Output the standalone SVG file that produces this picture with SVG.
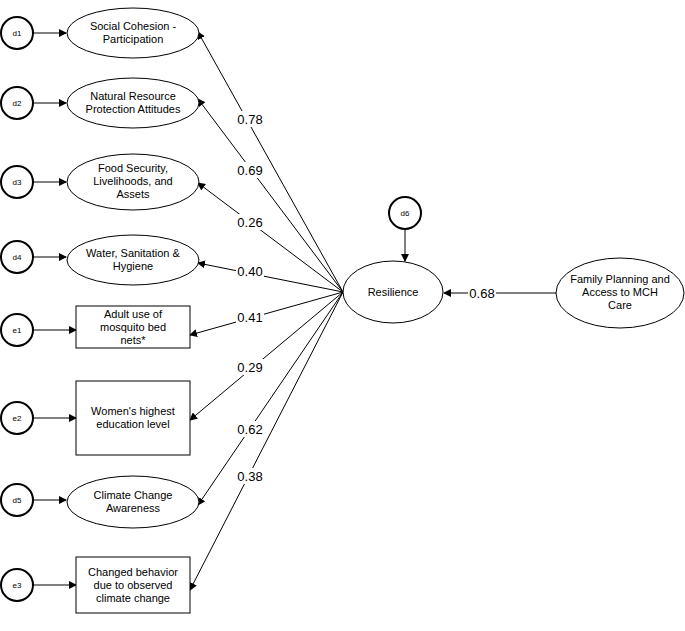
<svg xmlns="http://www.w3.org/2000/svg" width="685" height="631" viewBox="0 0 685 631">
<style>
.n{fill:#fff;stroke:#000;stroke-width:1}
.c{fill:#fff;stroke:#000;stroke-width:2}
.t{font-family:"Liberation Sans",Arial,sans-serif;font-size:11px;text-anchor:middle;fill:#000}
.s{font-family:"Liberation Sans",Arial,sans-serif;font-size:8px;text-anchor:middle;fill:#000}
.l{font-family:"Liberation Sans",Arial,sans-serif;font-size:13px;text-anchor:middle;fill:#000}
.e{stroke:#000;stroke-width:1;fill:none;marker-end:url(#a)}
</style>
<defs><marker id="a" markerWidth="8" markerHeight="8" refX="7" refY="4" orient="auto" markerUnits="userSpaceOnUse"><path d="M0,0 L8,4 L0,8 z" fill="#000"/></marker></defs>
<rect width="685" height="631" fill="#fff"/>
<g id="connectors">
<line class="e" x1="33" y1="33" x2="66" y2="33"/>
<line class="e" x1="33" y1="103" x2="66" y2="103"/>
<line class="e" x1="33" y1="182" x2="66" y2="182"/>
<line class="e" x1="33" y1="257" x2="66" y2="257"/>
<line class="e" x1="33" y1="330" x2="76" y2="330"/>
<line class="e" x1="33" y1="418" x2="76" y2="418"/>
<line class="e" x1="33" y1="500" x2="66" y2="500"/>
<line class="e" x1="33" y1="585" x2="76" y2="585"/>
<line class="e" x1="405" y1="229" x2="405" y2="261"/>
<line class="e" x1="556" y1="293" x2="444" y2="293"/>
<line class="e" x1="343" y1="292" x2="198" y2="32"/>
<line class="e" x1="343" y1="292" x2="198" y2="99"/>
<line class="e" x1="343" y1="292" x2="198" y2="183"/>
<line class="e" x1="343" y1="292" x2="198" y2="263"/>
<line class="e" x1="343" y1="292" x2="190" y2="335"/>
<line class="e" x1="343" y1="292" x2="190" y2="420"/>
<line class="e" x1="343" y1="292" x2="198" y2="505"/>
<line class="e" x1="343" y1="292" x2="190" y2="590"/>
<g fill="#fff">
<rect x="236" y="111" width="28" height="16"/><rect x="236" y="162" width="28" height="16"/>
<rect x="236" y="214" width="28" height="16"/><rect x="236" y="263" width="28" height="16"/>
<rect x="236" y="309" width="28" height="16"/><rect x="236" y="359" width="28" height="16"/>
<rect x="236" y="421" width="28" height="16"/><rect x="236" y="468" width="28" height="16"/>
<rect x="468" y="285" width="28" height="16"/>
</g>
<text class="l" x="250" y="124">0.78</text><text class="l" x="250" y="175">0.69</text>
<text class="l" x="250" y="227">0.26</text><text class="l" x="250" y="276">0.40</text>
<text class="l" x="250" y="322">0.41</text><text class="l" x="250" y="372">0.29</text>
<text class="l" x="250" y="434">0.62</text><text class="l" x="250" y="481">0.38</text>
<text class="l" x="482" y="298">0.68</text>
</g>
<g id="d1"><circle class="c" cx="17" cy="33" r="16"/><text class="s" x="17" y="36">d1</text></g>
<g id="d2"><circle class="c" cx="17" cy="103" r="16"/><text class="s" x="17" y="106">d2</text></g>
<g id="d3"><circle class="c" cx="17" cy="182" r="16"/><text class="s" x="17" y="185">d3</text></g>
<g id="d4"><circle class="c" cx="17" cy="257" r="16"/><text class="s" x="17" y="260">d4</text></g>
<g id="e1"><circle class="c" cx="17" cy="330" r="16"/><text class="s" x="17" y="333">e1</text></g>
<g id="e2"><circle class="c" cx="17" cy="418" r="16"/><text class="s" x="17" y="421">e2</text></g>
<g id="d5"><circle class="c" cx="17" cy="500" r="16"/><text class="s" x="17" y="503">d5</text></g>
<g id="e3"><circle class="c" cx="17" cy="585" r="16"/><text class="s" x="17" y="588">e3</text></g>
<g id="d6"><circle class="c" cx="405" cy="213" r="16"/><text class="s" x="405" y="216">d6</text></g>
<g id="social"><ellipse class="n" cx="133" cy="33" rx="66" ry="25"/><text class="t" x="133" y="30">Social Cohesion -</text><text class="t" x="133" y="43">Participation</text></g>
<g id="natural"><ellipse class="n" cx="133" cy="103" rx="66" ry="25"/><text class="t" x="133" y="100">Natural Resource</text><text class="t" x="133" y="113">Protection Attitudes</text></g>
<g id="food"><ellipse class="n" cx="133" cy="182" rx="66" ry="28"/><text class="t" x="133" y="172">Food Security,</text><text class="t" x="133" y="185">Livelihoods, and</text><text class="t" x="133" y="198">Assets</text></g>
<g id="water"><ellipse class="n" cx="133" cy="260" rx="66" ry="25"/><text class="t" x="133" y="257">Water, Sanitation &amp;</text><text class="t" x="133" y="270">Hygiene</text></g>
<g id="bednets"><rect class="n" x="76" y="306" width="114" height="42"/><text class="t" x="133" y="318">Adult use of</text><text class="t" x="133" y="331">mosquito bed</text><text class="t" x="133" y="344">nets*</text></g>
<g id="education"><rect class="n" x="76" y="381" width="114" height="74"/><text class="t" x="133" y="415">Women's highest</text><text class="t" x="133" y="428">education level</text></g>
<g id="climate"><ellipse class="n" cx="133" cy="502" rx="66" ry="26"/><text class="t" x="133" y="499">Climate Change</text><text class="t" x="133" y="512">Awareness</text></g>
<g id="behavior"><rect class="n" x="76" y="557" width="114" height="56"/><text class="t" x="133" y="576">Changed behavior</text><text class="t" x="133" y="589">due to observed</text><text class="t" x="133" y="602">climate change</text></g>
<g id="resilience"><ellipse class="n" cx="393" cy="292" rx="50" ry="31"/><text class="t" x="393" y="296">Resilience</text></g>
<g id="family"><ellipse class="n" cx="620" cy="293" rx="64" ry="35"/><text class="t" x="620" y="283">Family Planning and</text><text class="t" x="620" y="296">Access to MCH</text><text class="t" x="620" y="309">Care</text></g>
</svg>
